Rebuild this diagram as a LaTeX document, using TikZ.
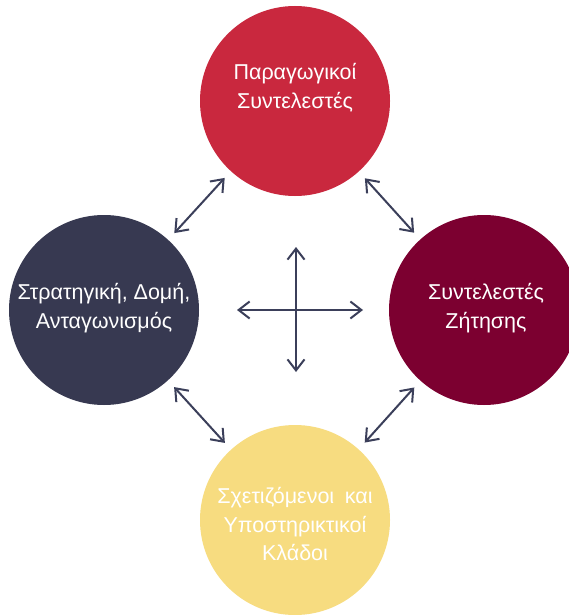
\documentclass[tikz,border=0pt]{standalone}
\usepackage{fontspec}
\setmainfont{Liberation Sans}
\usetikzlibrary{arrows.meta}
\definecolor{redc}{HTML}{C9283E}
\definecolor{navyc}{HTML}{373951}
\definecolor{maroonc}{HTML}{7C0030}
\definecolor{yellowc}{HTML}{F7DC80}
\definecolor{arrowc}{HTML}{3B3F5A}
\tikzset{
  blob/.style={circle, minimum size=190pt, inner sep=0pt, draw=none},
  lbl/.style={text=white, align=center, font=\fontsize{21.5pt}{28.5pt}\selectfont, inner sep=0pt},
  biarrow/.style={draw=arrowc, line width=2pt,
    {Straight Barb[length=11pt,width=17pt]}-{Straight Barb[length=11pt,width=17pt]}},
  gap/.style={shorten <=9pt, shorten >=9pt}
}
\begin{document}
\begin{tikzpicture}[x=1pt,y=-1pt]
\clip (0,0) rectangle (569,615);
\fill[white] (0,0) rectangle (569,615);
% circles
\node[blob, fill=redc]    (top)    at (295,101) {};
\node[blob, fill=navyc]   (left)   at (104,310) {};
\node[blob, fill=maroonc] (right)  at (484,310) {};
\node[blob, fill=yellowc] (bottom) at (295,520) {};
% labels
\node[lbl] (topText)    at (295,88)  {Παραγωγικοί\\Συντελεστές};
\node[lbl] (leftText)   at (104,308) {Στρατηγική, Δομή,\\Ανταγωνισμός};
\node[lbl] (rightText)  at (486,308) {Συντελεστές\\Ζήτησης};
\node[lbl] (bottomText) at (295,524) {Σχετιζόμενοι\hspace{0.5em}και\\Υποστηρικτικοί\\Κλάδοι};
% diagonal links
\draw[biarrow, gap] (top) -- (left);
\draw[biarrow, gap] (top) -- (right);
\draw[biarrow, gap] (left) -- (bottom);
\draw[biarrow, gap] (right) -- (bottom);
% central cross
\coordinate (cN) at (296,247);
\coordinate (cS) at (296,372);
\coordinate (cW) at (237,310);
\coordinate (cE) at (363,310);
\draw[biarrow] (cS) -- (cN);
\draw[biarrow] (cW) -- (cE);
\end{tikzpicture}
\end{document}
